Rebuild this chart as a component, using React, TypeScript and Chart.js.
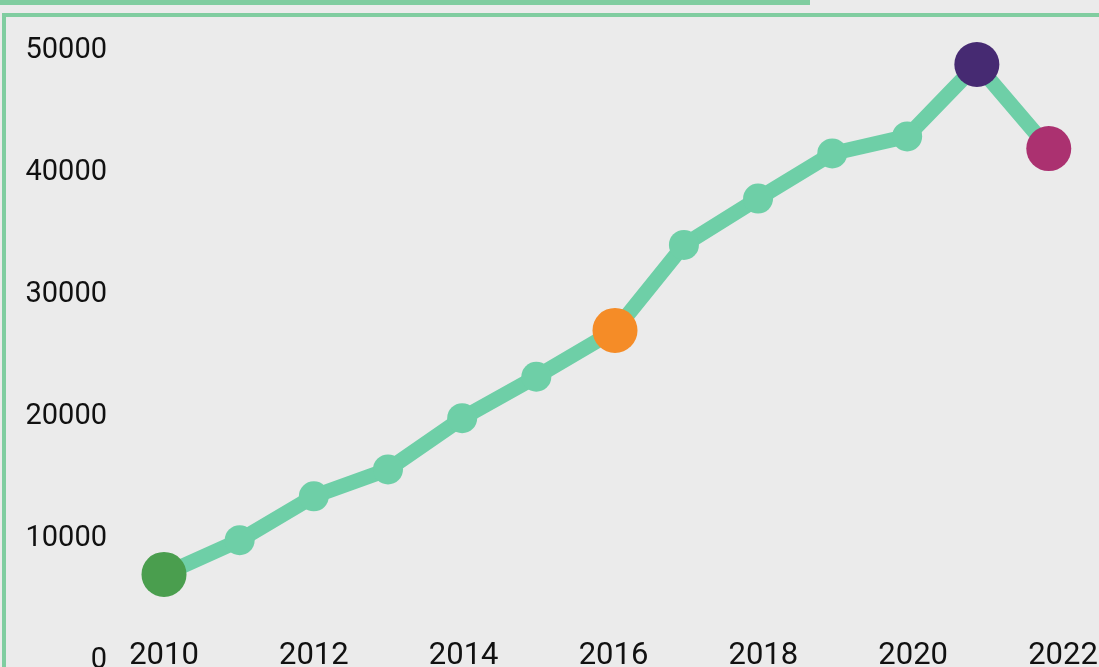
import React, { useEffect, useRef } from "react";
import { Chart, registerables } from "chart.js";

Chart.register(...registerables);

const years = [2010, 2011, 2012, 2013, 2014, 2015, 2016, 2017, 2018, 2019, 2020, 2021, 2022];
const pointDates = [2010.0, 2011.01, 2012.0, 2012.99, 2013.98, 2014.97, 2016.02, 2016.94, 2017.93, 2018.92, 2019.92, 2020.85, 2021.81];
const values = [7100, 9900, 13500, 15700, 19900, 23300, 27100, 34100, 37900, 41600, 43000, 48900, 42000];
const yTicks = [0, 10000, 20000, 30000, 40000, 50000];
const xTickYears = [2010, 2012, 2014, 2016, 2018, 2020, 2022];

const LINE = "#6ecfa7";
const FRAME = "#80cda0";
const highlightColors: Record<number, string> = {
  2010: "#4a9e4e",
  2016: "#f58c27",
  2021: "#462a72",
  2022: "#ab3170",
};

const noPad = (scale: any) => {
  scale.paddingTop = 0;
  scale.paddingBottom = 0;
  scale.paddingLeft = 0;
  scale.paddingRight = 0;
};

export default function App() {
  const ref = useRef<HTMLCanvasElement | null>(null);

  useEffect(() => {
    document.body.style.margin = "0";
    const canvas = ref.current;
    if (!canvas) return;
    const chart = new Chart(canvas, {
      type: "line",
      data: {
        datasets: [
          {
            data: pointDates.map((d, i) => ({ x: d, y: values[i] })),
            borderColor: LINE,
            borderWidth: 15,
            tension: 0,
            clip: false as any,
            pointBackgroundColor: years.map((y) => highlightColors[y] || LINE),
            pointBorderWidth: 0,
            pointRadius: years.map((y) => (highlightColors[y] ? 22.5 : 15)),
          },
        ],
      },
      options: {
        responsive: false,
        animation: false,
        events: [],
        layout: { autoPadding: false, padding: { left: 0, top: 51, right: 36, bottom: 0 } },
        plugins: { legend: { display: false }, tooltip: { enabled: false } },
        scales: {
          x: {
            type: "linear",
            position: "bottom",
            min: 2010,
            max: 2022,
            afterBuildTicks: (scale: any) => {
              scale.ticks = xTickYears.map((v) => ({ value: v }));
            },
            afterFit: (scale: any) => {
              scale.height = 6;
              noPad(scale);
            },
            grid: { display: false, drawTicks: false },
            border: { display: false },
            ticks: {
              mirror: true,
              padding: -14,
              color: "#111",
              font: { family: "Roboto", size: 31 },
              maxRotation: 0,
              autoSkip: false,
              callback: (v: any) => String(v),
            },
          },
          y: {
            type: "linear",
            min: 0,
            max: 50000,
            afterBuildTicks: (scale: any) => {
              scale.ticks = yTicks.map((v) => ({ value: v }));
            },
            afterFit: (scale: any) => {
              scale.width = 164;
              noPad(scale);
            },
            grid: { display: false, drawTicks: false },
            border: { display: false },
            ticks: {
              padding: 57,
              color: "#111",
              font: { family: "Roboto", size: 29 },
              callback: (v: any) => String(v),
            },
          },
        },
      },
    });
    return () => chart.destroy();
  }, []);

  return (
    <div
      style={{
        position: "fixed",
        left: 0,
        top: 0,
        width: 1099,
        height: 667,
        overflow: "hidden",
        background: "#ebebeb",
      }}
    >
      <div style={{ position: "absolute", left: 0, top: 0, width: 810, height: 5, background: FRAME }} />
      <div
        style={{
          position: "absolute",
          left: 2,
          top: 13,
          width: 1200,
          height: 800,
          borderTop: `4px solid ${FRAME}`,
          borderLeft: `4px solid ${FRAME}`,
        }}
      />
      <canvas
        ref={ref}
        width={1099}
        height={667}
        style={{ position: "absolute", left: 0, top: 0, width: 1099, height: 667 }}
      />
    </div>
  );
}
